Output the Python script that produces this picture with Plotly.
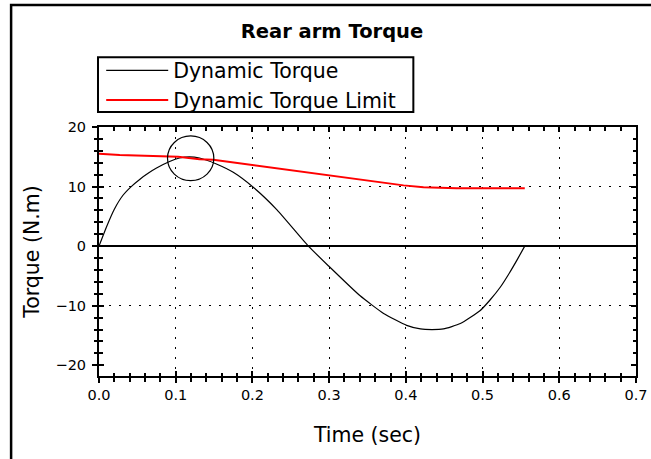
import plotly.graph_objects as go

# Dynamic torque of the rear arm over the motion cycle
time_s = [0.0, 0.010, 0.020, 0.031, 0.042, 0.053, 0.065, 0.075, 0.092, 0.105,
          0.118, 0.131, 0.153, 0.175, 0.201, 0.232, 0.273, 0.299, 0.340, 0.371,
          0.401, 0.419, 0.434, 0.449, 0.471, 0.497, 0.510, 0.523, 0.535, 0.545, 0.555]
torque_nm = [0.0, 3.3, 6.2, 8.5, 10.0, 11.2, 12.3, 13.1, 14.2, 14.8,
             15.0, 14.8, 13.8, 12.4, 9.9, 6.1, 0.0, -3.3, -8.3, -11.3,
             -13.3, -13.9, -14.0, -13.9, -13.0, -10.8, -9.0, -6.9, -4.5, -2.3, 0.0]

# Allowed dynamic torque over the same cycle
limit_time_s = [0.0, 0.027, 0.103, 0.131, 0.149, 0.184, 0.214, 0.249, 0.301,
                0.336, 0.379, 0.397, 0.423, 0.466, 0.555]
limit_nm = [15.5, 15.3, 15.0, 14.6, 14.5, 13.9, 13.4, 12.8, 11.9,
            11.3, 10.6, 10.2, 9.9, 9.7, 9.7]

# Highlighted region where torque meets the limit (time span, torque span)
highlight_t = [0.0893, 0.1497]
highlight_tq = [11.0, 18.5]

x_range = [0.0, 0.7]
y_range = [-21.8, 20.0]
y_ticks = [-20, -10, 0, 10, 20]
y_grid = [-10, 10]

FONT = "DejaVu Sans, Verdana, sans-serif"
W, H = 651, 459
ML, MR, MT, MB = 99.3, 15.3, 127.3, 83.3
PW, PH = W - ML - MR, H - MT - MB


def px_x(px):
    """Horizontal pixel position -> paper coordinate."""
    return (px - ML) / PW


def px_y(py):
    """Vertical pixel position (from top) -> paper coordinate."""
    return (H - MB - py) / PH


fig = go.Figure()
fig.add_trace(go.Scatter(x=time_s, y=torque_nm, mode="lines", name="Dynamic Torque",
                         line=dict(color="black", width=1.2, shape="spline", smoothing=0.5)))
fig.add_trace(go.Scatter(x=limit_time_s, y=limit_nm, mode="lines", name="Dynamic Torque Limit",
                         line=dict(color="#ff0000", width=2)))
# empty traces that host the extra tick / grid axes
fig.add_trace(go.Scatter(x=[], y=[], xaxis="x2", yaxis="y2", showlegend=False, hoverinfo="skip"))
fig.add_trace(go.Scatter(x=[], y=[], xaxis="x", yaxis="y3", showlegend=False, hoverinfo="skip"))

tick_font = dict(family=FONT, size=14.5, color="black")
title_font = dict(family=FONT, size=20.5, color="black")
fig.update_layout(
    width=W, height=H, autosize=False,
    margin=dict(l=ML, r=MR, t=MT, b=MB, pad=0),
    paper_bgcolor="white", plot_bgcolor="white",
    title=dict(text="<b>Rear arm Torque</b>", x=332 / W, xref="container", xanchor="center",
               y=1 - 31 / H, yref="container", yanchor="middle",
               font=dict(family=FONT, size=19.5, color="black")),
    showlegend=True,
    legend=dict(x=px_x(101.5), y=px_y(51), xanchor="left", yanchor="top",
                borderwidth=0, bgcolor="rgba(0,0,0,0)",
                font=dict(family=FONT, size=20.5, color="black"),
                itemwidth=62, tracegroupgap=0),
    # bottom axis: labels, outward ticks and the vertical dotted grid
    xaxis=dict(range=x_range, dtick=0.1, tickformat=".1f", ticks="outside", ticklen=5,
               tickwidth=1.5, tickcolor="black", showline=True, linewidth=2, linecolor="black",
               mirror=False, showgrid=True, gridcolor="black", gridwidth=1, griddash="2px,8px",
               zeroline=False, tickfont=tick_font, automargin=False,
               minor=dict(dtick=0.02, ticks="outside", ticklen=3.5, tickwidth=1.5,
                          tickcolor="black", showgrid=False),
               title=dict(text="Time (sec)", font=title_font, standoff=25)),
    # inward ticks on bottom and top
    xaxis2=dict(range=x_range, overlaying="x", anchor="y2", side="bottom", dtick=0.1,
                ticks="inside", ticklen=5, tickwidth=1.5, tickcolor="black",
                showline=True, linewidth=2, linecolor="black", mirror="ticks",
                showticklabels=False, showgrid=False, zeroline=False, automargin=False,
                minor=dict(dtick=0.02, ticks="inside", ticklen=3.5, tickwidth=1.5,
                           tickcolor="black", showgrid=False)),
    # left axis: labels, outward ticks and the solid zero line
    yaxis=dict(range=y_range, tickvals=y_ticks, ticks="outside", ticklen=5, tickwidth=1.5,
               tickcolor="black", showline=True, linewidth=2, linecolor="black", mirror=False,
               showgrid=False, zeroline=True, zerolinecolor="black", zerolinewidth=1.5,
               tickfont=tick_font, ticklabelstandoff=3, automargin=False,
               minor=dict(dtick=2, ticks="outside", ticklen=3.5, tickwidth=1.5,
                          tickcolor="black", showgrid=False),
               title=dict(text="Torque (N.m)", font=title_font, standoff=10)),
    # inward ticks on left and right
    yaxis2=dict(range=y_range, overlaying="y", anchor="x2", side="left", tickvals=y_ticks,
                ticks="inside", ticklen=5, tickwidth=1.5, tickcolor="black",
                showline=True, linewidth=2, linecolor="black", mirror="ticks",
                showticklabels=False, showgrid=False, zeroline=False, automargin=False,
                minor=dict(dtick=2, ticks="inside", ticklen=3.5, tickwidth=1.5,
                           tickcolor="black", showgrid=False)),
    # horizontal dotted grid
    yaxis3=dict(range=y_range, overlaying="y", anchor="x", side="left", tickvals=y_grid,
                ticks="", showline=False, showticklabels=False, zeroline=False,
                automargin=False,
                showgrid=True, gridcolor="black", gridwidth=1, griddash="2px,8px"),
)

# circle marking the point where the torque reaches the limit
fig.add_shape(type="circle", xref="x", yref="y",
              x0=highlight_t[0], x1=highlight_t[1], y0=highlight_tq[0], y1=highlight_tq[1],
              line=dict(color="black", width=1.2))

# legend frame
fig.add_shape(type="rect", xref="paper", yref="paper",
              x0=px_x(98.3), x1=px_x(413.3), y0=px_y(112.3), y1=px_y(57.7),
              line=dict(color="black", width=2), fillcolor="rgba(0,0,0,0)")

# outer frame; its right and bottom edges lie past the canvas
fig.add_shape(type="rect", xref="paper", yref="paper",
              x0=px_x(11.5), x1=px_x(W + 30), y0=px_y(H + 30), y1=px_y(5.5),
              line=dict(color="black", width=2.5), fillcolor="rgba(0,0,0,0)")

fig.write_html("out.html")
